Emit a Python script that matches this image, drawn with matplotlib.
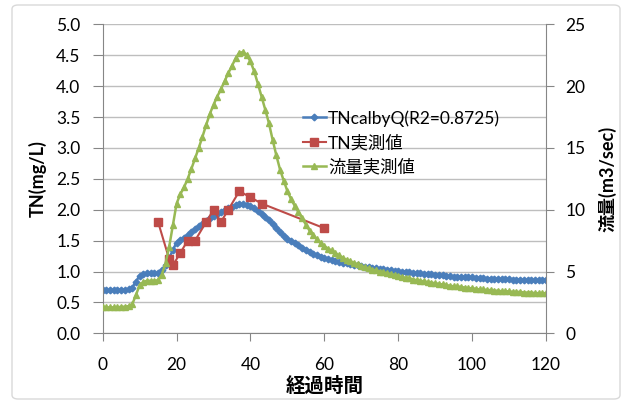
import numpy as np
import matplotlib
matplotlib.use("Agg")
import matplotlib.pyplot as plt
from matplotlib.patches import FancyBboxPatch

plt.rcParams['font.family'] = ['Lato', 'Noto Sans CJK JP', 'DejaVu Sans']

# elapsed time
t = np.arange(0, 121)

# flow measurement (m3/sec), right axis
flow = [2.1, 2.1, 2.1, 2.1, 2.1, 2.15, 2.15, 2.2, 2.35, 3.1,
        3.9, 4.15, 4.25, 4.25, 4.25, 4.3, 4.75, 5.65, 7.0, 8.75,
        10.5, 11.25, 11.8, 12.5, 13.3, 14.15, 15.0, 15.9, 16.85, 17.75,
        18.5, 19.15, 19.75, 20.4, 21.05, 21.65, 22.25, 22.7, 22.75, 22.5,
        22.0, 21.2, 20.2, 19.15, 18.1, 17.0, 15.65, 14.4, 13.25, 12.35,
        11.5, 10.85, 10.3, 9.8, 9.3, 8.8, 8.3, 7.95, 7.6, 7.3,
        7.05, 6.85, 6.7, 6.5, 6.3, 6.1, 5.95, 5.85, 5.7, 5.6,
        5.45, 5.35, 5.25, 5.15, 5.1, 5.0, 4.95, 4.85, 4.8, 4.7,
        4.65, 4.55, 4.5, 4.45, 4.35, 4.3, 4.25, 4.2, 4.15, 4.1,
        4.05, 4.0, 3.95, 3.9, 3.85, 3.8, 3.8, 3.75, 3.7, 3.65,
        3.65, 3.6, 3.55, 3.55, 3.5, 3.5, 3.45, 3.45, 3.4, 3.4,
        3.4, 3.35, 3.35, 3.35, 3.3, 3.3, 3.3, 3.25, 3.25, 3.25,
        3.25]

# TN calculated from Q (mg/L), left axis
tn_cal = [0.700, 0.700, 0.700, 0.700, 0.700, 0.708, 0.708, 0.715, 0.737, 0.837,
          0.930, 0.958, 0.968, 0.968, 0.968, 0.973, 1.019, 1.103, 1.218, 1.349,
          1.468, 1.515, 1.548, 1.590, 1.636, 1.684, 1.729, 1.776, 1.824, 1.868,
          1.904, 1.935, 1.962, 1.992, 2.021, 2.047, 2.073, 2.092, 2.094, 2.083,
          2.062, 2.027, 1.983, 1.935, 1.885, 1.831, 1.763, 1.697, 1.633, 1.581,
          1.530, 1.490, 1.455, 1.421, 1.388, 1.353, 1.317, 1.291, 1.265, 1.241,
          1.222, 1.206, 1.194, 1.177, 1.160, 1.143, 1.130, 1.121, 1.108, 1.099,
          1.085, 1.076, 1.067, 1.057, 1.053, 1.043, 1.038, 1.029, 1.024, 1.014,
          1.009, 0.999, 0.994, 0.989, 0.978, 0.973, 0.968, 0.963, 0.958, 0.952,
          0.947, 0.941, 0.936, 0.930, 0.925, 0.919, 0.919, 0.914, 0.908, 0.903,
          0.903, 0.897, 0.891, 0.891, 0.885, 0.885, 0.879, 0.879, 0.873, 0.873,
          0.873, 0.868, 0.868, 0.868, 0.862, 0.862, 0.862, 0.856, 0.856, 0.856,
          0.856]

# TN measured
t_obs = [15, 18, 19, 21, 23, 25, 28, 30, 32, 34, 37, 40, 43, 60]
tn_obs = [1.8, 1.2, 1.1, 1.3, 1.5, 1.5, 1.8, 2.0, 1.8, 2.0, 2.3, 2.2, 2.1, 1.7]

blue = '#4A7EBB'
red = '#BE4B48'
green = '#98B954'
spine_c = '#868686'
grid_c = '#BEBEBE'

fig = plt.figure(figsize=(6.26, 4.03), dpi=100)
# outer chart border
fig.patches.append(FancyBboxPatch((12 / 626, 4 / 403), 608 / 626, 394 / 403,
                                  boxstyle='round,pad=0,rounding_size=0.01',
                                  transform=fig.transFigure, fc='white',
                                  ec='#D9D9D9', lw=1.0, zorder=-10))

ax = fig.add_axes([102.7 / 626, 1 - 333.3 / 403, 443.3 / 626, 309 / 403])
ax.patch.set_alpha(0)
ax2 = ax.twinx()

l1, = ax.plot(t, tn_cal, color=blue, lw=1.8, marker='D', ms=3.4, mec=blue,
              label='TNcalbyQ(R2=0.8725)')
l2, = ax.plot(t_obs, tn_obs, color=red, lw=1.5, marker='s', ms=5.5, mec=red,
              label='TN実測値')
l3, = ax2.plot(t, flow, color=green, lw=1.8, marker='^', ms=4.6, mec=green,
               label='流量実測値')

ax.set_xlim(0, 120)
ax.set_ylim(0, 5)
ax2.set_ylim(0, 25)
ax.set_xticks(np.arange(0, 121, 20))
ax.set_yticks(np.arange(0, 5.01, 0.5))
ax.set_yticklabels([f'{v:.1f}' for v in np.arange(0, 5.01, 0.5)])
ax2.set_yticks(np.arange(0, 26, 5))

ax.grid(axis='y', color=grid_c, lw=1.0)
ax.set_axisbelow(True)

for a in (ax, ax2):
    a.spines['top'].set_visible(False)
    for s in ('left', 'right', 'bottom'):
        a.spines[s].set_color(spine_c)
ax.spines['right'].set_visible(False)
ax2.spines['left'].set_visible(False)
ax2.spines['bottom'].set_visible(False)

ax.tick_params(axis='y', length=7, color=spine_c, labelsize=12.5, pad=9)
ax.tick_params(axis='x', length=6, color=spine_c, labelsize=12.5, pad=11)
ax2.tick_params(axis='y', length=6, color=spine_c, labelsize=12.5, pad=8)

ax.set_xlabel('経過時間', fontsize=14, fontweight='bold', labelpad=2)
ax.set_ylabel('TN(mg/L)', fontsize=13, fontweight='bold', labelpad=7)
ax2.set_ylabel('流量(m3/sec)', fontsize=13, fontweight='bold', labelpad=9)

ax2.legend(handles=[l1, l2, l3], loc='upper left',
           bbox_to_anchor=(303 / 626, 1 - 110 / 403), bbox_transform=fig.transFigure,
           frameon=False, fontsize=12.5, handlelength=1.3, handletextpad=0.15,
           labelspacing=0.45, borderpad=0, borderaxespad=0)

fig.savefig('out.png', dpi=100)
